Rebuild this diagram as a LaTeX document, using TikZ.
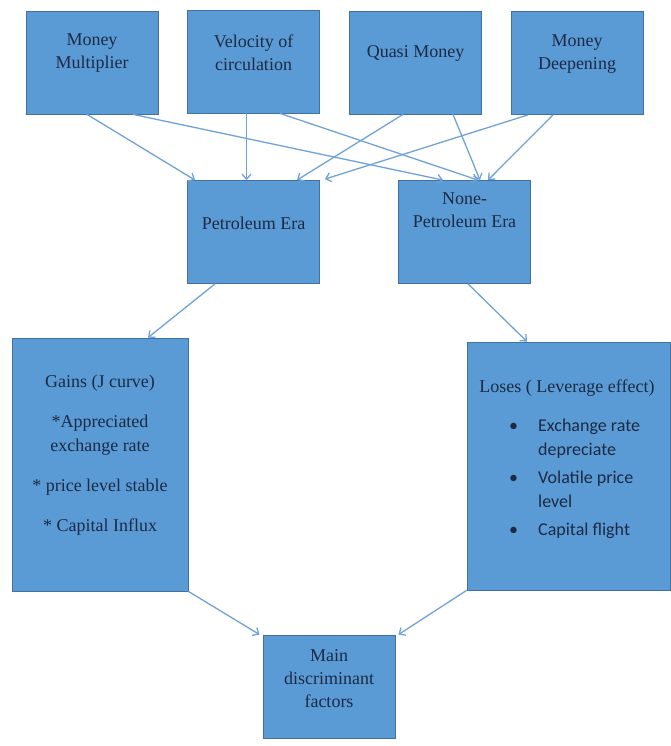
\documentclass[tikz,border=0pt]{standalone}
\usepackage{fontspec}
\setmainfont{Liberation Serif}
\newfontfamily\bulletfont{Carlito}
\usepackage{xcolor}
\usetikzlibrary{arrows.meta}
\definecolor{boxfill}{HTML}{5B9BD5}
\definecolor{boxline}{HTML}{41719C}
\definecolor{linkline}{HTML}{6FA3D8}
\definecolor{boxtext}{HTML}{1C2A44}

\begin{document}
\begin{tikzpicture}[x=1pt,y=-1pt,
  box/.style={rectangle,draw=boxline,line width=0.8pt,fill=boxfill,inner sep=0pt},
  small box/.style={box,minimum width=132pt,minimum height=103pt},
  boxlabel/.style={text=boxtext,align=center,inner sep=0pt,font=\rmfamily\fontsize{18}{23}\selectfont},
  link/.style={draw=linkline,line width=1.3pt,-{Straight Barb[length=5pt,width=9pt]}}]
  \useasboundingbox (0,0) rectangle (671,746);
  % top row
  \node[small box] (MM) at (92,62.5) {};
  \node[small box] (VC) at (253.5,61.5) {};
  \node[small box] (QM) at (415.5,62.5) {};
  \node[small box] (MD) at (577,63) {};
  \node[boxlabel] (MMt) at (92,53.5) {Money\\Multiplier};
  \node[boxlabel] (VCt) at (253.5,52.5) {Velocity of\\circulation};
  \node[boxlabel] (QMt) at (415.5,53) {Quasi Money};
  \node[boxlabel] (MDt) at (577,54) {Money\\Deepening};
  % eras
  \node[small box] (PE) at (253.5,232) {};
  \node[small box] (NP) at (464.5,232) {};
  \node[boxlabel] (PEt) at (253.5,223) {Petroleum Era};
  \node[boxlabel] (NPt) at (464.5,210.5) {None-\\Petroleum Era};
  % outcomes
  \node[box,minimum width=176pt,minimum height=253pt] (GA) at (100,464.5) {};
  \node[box,minimum width=203pt,minimum height=248pt] (LO) at (568.5,466) {};
  \node[boxlabel,font=\rmfamily\fontsize{18}{24}\selectfont] (GAt) at (100,455.5)
    {Gains (J curve)\\[16pt]*Appreciated\\exchange rate\\[16pt]* price level stable\\[16pt]* Capital Influx};
  \node[boxlabel] (LOt) at (567,388) {Loses ( Leverage effect)};
  \node[boxlabel,align=left,anchor=west,font=\bulletfont\fontsize{18}{24}\selectfont] (LOl) at (538,478.5)
    {\llap{\textbullet\hspace{20pt}}Exchange rate\\depreciate\\[4pt]
     \llap{\textbullet\hspace{20pt}}Volatile price\\level\\[4pt]
     \llap{\textbullet\hspace{20pt}}Capital flight};
  \node[small box] (DF) at (329,686.5) {};
  \node[boxlabel] (DFt) at (329,679) {Main\\discriminant\\factors};
  % links
  \draw[link] ([xshift=-5pt]MM.south) -- ([xshift=-58.5pt]PE.north);
  \draw[link] ([xshift=41pt]MM.south) -- ([xshift=-21.5pt]NP.north);
  \draw[link] ([xshift=-7pt]VC.south) -- ([xshift=-7pt]PE.north);
  \draw[link] ([xshift=26.5pt]VC.south) -- ([xshift=13.5pt]NP.north);
  \draw[link] ([xshift=-12.5pt]QM.south) -- ([xshift=43.5pt]PE.north);
  \draw[link] ([xshift=37.5pt]QM.south) -- ([xshift=15.5pt]NP.north);
  \draw[link] ([xshift=-49pt]MD.south) -- ([xshift=5pt,yshift=1pt]PE.north east);
  \draw[link] ([xshift=-24pt]MD.south) -- ([xshift=23.5pt]NP.north);
  \draw[link] ([xshift=-38.5pt]PE.south) -- ([xshift=48pt]GA.north);
  \draw[link] ([xshift=3.5pt]NP.south) -- ([xshift=-41.5pt]LO.north);
  \draw[link] (GA.south east) -- ([xshift=-3pt]DF.north west);
  \draw[link] (LO.south west) -- ([xshift=3pt]DF.north east);
\end{tikzpicture}
\end{document}
